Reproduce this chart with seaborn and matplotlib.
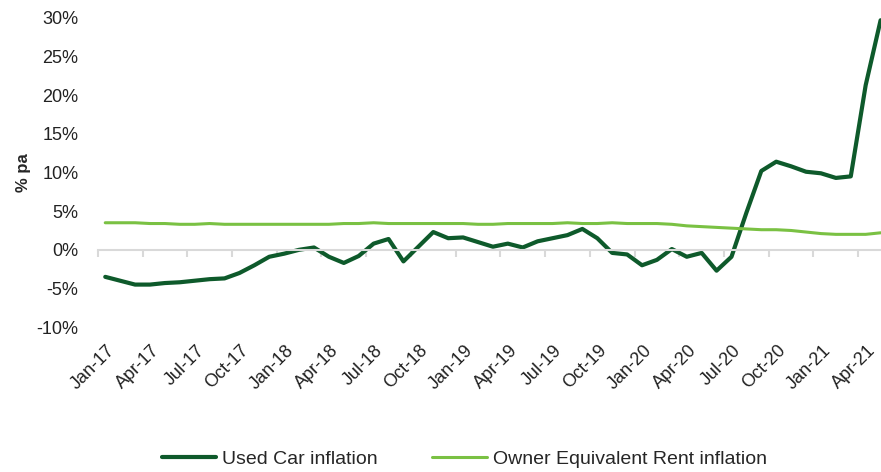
import numpy as np
import pandas as pd
import matplotlib
matplotlib.use("Agg")
import matplotlib.pyplot as plt
import matplotlib.transforms as mtransforms
import seaborn as sns
from matplotlib.ticker import FuncFormatter

# monthly, Jan-17 .. May-21
months = pd.date_range("2017-01-01", "2021-05-01", freq="MS")
month_labels = [d.strftime("%b-%y") for d in months]

used_car = [
    -3.5, -4.0, -4.5, -4.5, -4.3, -4.2, -4.0, -3.8, -3.7, -3.0, -2.0, -0.9,
    -0.5, 0.0, 0.3, -0.9, -1.7, -0.8, 0.8, 1.4, -1.5, 0.4, 2.3, 1.5,
    1.6, 1.0, 0.4, 0.8, 0.3, 1.1, 1.5, 1.9, 2.7, 1.5, -0.4, -0.6,
    -2.0, -1.3, 0.1, -0.9, -0.4, -2.7, -0.9, 4.8, 10.2, 11.4, 10.8, 10.1,
    9.9, 9.3, 9.5, 21.3, 29.7,
]
oer = [
    3.5, 3.5, 3.5, 3.4, 3.4, 3.3, 3.3, 3.4, 3.3, 3.3, 3.3, 3.3,
    3.3, 3.3, 3.3, 3.3, 3.4, 3.4, 3.5, 3.4, 3.4, 3.4, 3.4, 3.4,
    3.4, 3.3, 3.3, 3.4, 3.4, 3.4, 3.4, 3.5, 3.4, 3.4, 3.5, 3.4,
    3.4, 3.4, 3.3, 3.1, 3.0, 2.9, 2.8, 2.7, 2.6, 2.6, 2.5, 2.3,
    2.1, 2.0, 2.0, 2.0, 2.2,
]

series_names = ["Used Car inflation", "Owner Equivalent Rent inflation"]
colors = ["#0e5a2b", "#7ac143"]
widths = [3.0, 2.2]

df = pd.DataFrame({"idx": np.arange(len(months)),
                   series_names[0]: used_car,
                   series_names[1]: oer})
long = df.melt(id_vars="idx", var_name="series", value_name="value")

sns.set_style("white")
plt.rcParams["font.family"] = ["Liberation Sans", "DejaVu Sans"]

fig = plt.figure(figsize=(8.81, 4.72), dpi=100)
ax = fig.add_axes([0.111, 0.307, 0.897, 0.655])

sns.lineplot(data=long, x="idx", y="value", hue="series", hue_order=series_names,
             palette=colors, ax=ax, legend=False)
for line, lw in zip(ax.lines, widths):
    line.set_linewidth(lw)

n = len(months)
ax.set_xlim(-0.5, n - 0.5)
ax.set_ylim(-10, 30)
ax.set_yticks(range(-10, 31, 5))
ax.yaxis.set_major_formatter(FuncFormatter(lambda v, p: f"{v:.0f}%"))
ax.tick_params(axis="y", length=0, pad=14, labelsize=13, labelcolor="#222222")
ax.set_ylabel("% pa", fontweight="bold", fontsize=12)
ax.yaxis.set_label_coords(-0.085, 0.5)
ax.set_xlabel("")

for s in ["left", "right", "top"]:
    ax.spines[s].set_visible(False)
ax.spines["bottom"].set_position(("data", 0))
ax.spines["bottom"].set_color("#d9d9d9")
ax.spines["bottom"].set_linewidth(1.5)
ax.set_xticks([])
ax.set_xticks(np.arange(-0.5, n, 3), minor=True)
ax.tick_params(axis="x", which="minor", bottom=True, length=5, width=1.5,
               color="#d9d9d9", direction="out")

sec = ax.secondary_xaxis(0.0)
sec.set_xticks(range(0, n, 3))
sec.set_xticklabels(month_labels[::3], rotation=45, ha="right", va="center",
                    rotation_mode="anchor", fontsize=13, color="#222222")
sec.tick_params(length=0, pad=15)
sec.spines["bottom"].set_visible(False)
shift = mtransforms.ScaledTranslation(5 / 72, 0, fig.dpi_scale_trans)
for lab in sec.get_xticklabels():
    lab.set_transform(lab.get_transform() + shift)

handles = ax.lines[:2]
fig.legend(handles, series_names, loc="center", bbox_to_anchor=(0.527, 0.027),
           ncol=2, frameon=False, fontsize=14, handlelength=2.8,
           columnspacing=2.8, handletextpad=0.3)

fig.savefig("out.png", dpi=100)
